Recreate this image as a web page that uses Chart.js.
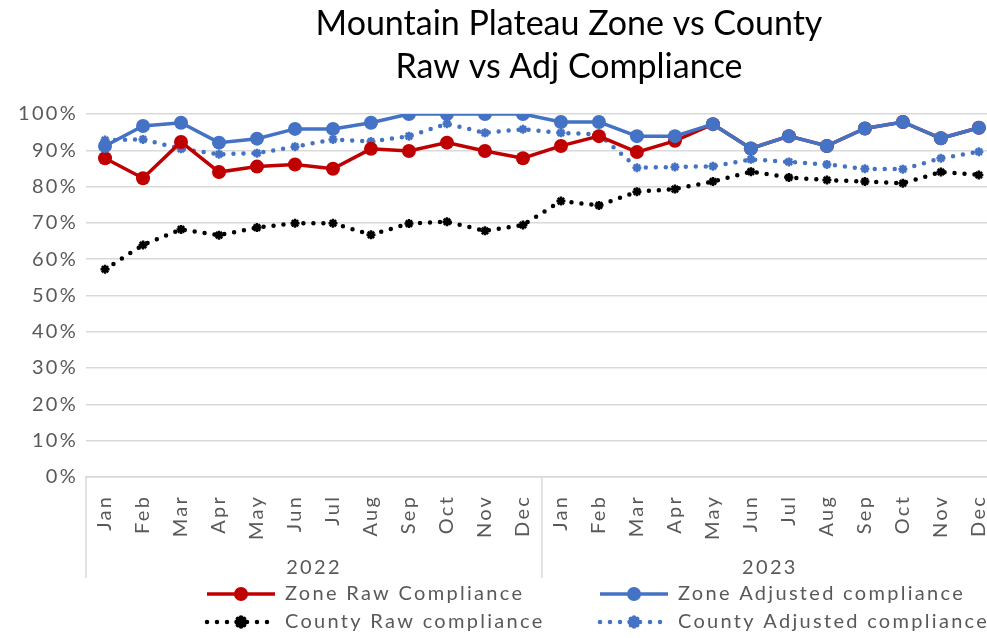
<!DOCTYPE html>
<html>
<head>
<meta charset="utf-8">
<script src="https://cdn.jsdelivr.net/npm/chart.js@4.4.0/dist/chart.umd.min.js"></script>
<style>
  html, body { margin: 0; padding: 0; background: #fff; overflow: hidden; }
  #canvas-wrapper { width: 1013px; height: 638px; }
</style>
</head>
<body>
<div id="canvas-wrapper"><canvas id="myChart"></canvas></div>
<script>
const titleLines = ['Mountain Plateau Zone vs County', 'Raw vs Adj Compliance'];
const years = ['2022', '2023'];
const months = ['Jan', 'Feb', 'Mar', 'Apr', 'May', 'Jun', 'Jul', 'Aug', 'Sep', 'Oct', 'Nov', 'Dec'];
const labels = years.flatMap(() => months);
const yTicks = [0, 10, 20, 30, 40, 50, 60, 70, 80, 90, 100];

const zoneRaw = [87.8, 82.3, 92.3, 84.0, 85.5, 86.1, 84.9, 90.4, 89.8, 92.1, 89.8, 87.8,
                 91.2, 93.9, 89.5, 92.6, 97.2, 90.5, 93.9, 91.2, 96.0, 97.8, 93.3, 96.2];
const zoneAdj = [91.2, 96.7, 97.6, 92.1, 93.2, 95.9, 95.9, 97.6, 100, 100, 100, 100,
                 97.8, 97.8, 93.9, 93.9, 97.2, 90.5, 93.9, 91.2, 96.0, 97.8, 93.3, 96.2];
const countyRaw = [57.2, 63.9, 68.2, 66.6, 68.7, 69.9, 69.9, 66.7, 69.8, 70.3, 67.8, 69.4,
                   76.0, 74.8, 78.6, 79.3, 81.4, 84.1, 82.5, 81.8, 81.4, 80.9, 84.0, 83.2];
const countyAdj = [92.8, 93.0, 90.4, 88.9, 89.2, 91.0, 93.0, 92.4, 93.9, 97.3, 94.8, 95.8,
                   94.8, 94.4, 85.2, 85.4, 85.6, 87.5, 86.8, 86.1, 84.9, 84.8, 87.8, 89.6];

const RED = '#C00000';
const BLUE = '#4472C4';
const GREY_TEXT = '#595959';
const GRID = '#D9D9D9';
const FONT = 'Lato';
const SPACING = '2.3px';

const solid = (label, data, color, order) => ({
  label, data, order,
  borderColor: color,
  backgroundColor: color,
  borderWidth: 3.5,
  pointRadius: 7,
  pointHoverRadius: 7,
  pointStyle: 'circle',
  pointBorderWidth: 0,
  tension: 0
});

const dotted = (label, data, color, order) => ({
  label, data, order,
  borderColor: color,
  backgroundColor: color,
  borderWidth: 4.5,
  borderDash: [0, 10],
  borderCapStyle: 'round',
  pointRadius: 4.5,
  pointHoverRadius: 4.5,
  pointStyle: 'star',
  pointBorderWidth: 2.5,
  tension: 0
});

// canvas letter spacing gets wiped whenever the canvas is resized
const spacing = {
  id: 'spacing',
  beforeUpdate(chart) { chart.ctx.letterSpacing = SPACING; },
  beforeLayout(chart) { chart.ctx.letterSpacing = SPACING; },
  beforeDraw(chart) { chart.ctx.letterSpacing = SPACING; }
};

const twoLineTitle = {
  id: 'twoLineTitle',
  afterDraw(chart) {
    const ctx = chart.ctx;
    ctx.save();
    ctx.letterSpacing = '0px';
    ctx.fillStyle = '#000';
    ctx.font = `34px ${FONT}`;
    ctx.textAlign = 'center';
    ctx.textBaseline = 'alphabetic';
    ctx.fillText(titleLines[0], 569, 35);
    ctx.fillText(titleLines[1], 569, 78);
    ctx.restore();
  }
};

// year groups under the month labels, with separator lines
const yearGroups = {
  id: 'yearGroups',
  afterDraw(chart) {
    const x = chart.scales.x;
    const ctx = chart.ctx;
    const step = x.getPixelForTick(1) - x.getPixelForTick(0);
    ctx.save();
    ctx.strokeStyle = GRID;
    ctx.lineWidth = 1.5;
    for (let g = 0; g <= years.length; g++) {
      const px = x.getPixelForTick(Math.min(g * 12, labels.length - 1)) + (g * 12 >= labels.length ? step / 2 : -step / 2);
      ctx.beginPath();
      ctx.moveTo(px, x.top);
      ctx.lineTo(px, x.bottom);
      ctx.stroke();
    }
    ctx.fillStyle = GREY_TEXT;
    ctx.font = `20px ${FONT}`;
    ctx.textAlign = 'center';
    ctx.textBaseline = 'alphabetic';
    years.forEach((y, g) => {
      const mid = (x.getPixelForTick(g * 12) + x.getPixelForTick(g * 12 + 11)) / 2;
      ctx.fillText(y, mid, x.bottom - 4);
    });
    ctx.restore();
  }
};

// two-column legend below the axis
const gridLegend = {
  id: 'gridLegend',
  afterDraw(chart) {
    const ctx = chart.ctx;
    const cols = [207, 600];
    const rows = [594, 622];
    const lineLen = 68;
    chart.data.datasets.forEach((ds, i) => {
      const cx = cols[i % 2];
      const cy = rows[Math.floor(i / 2)];
      ctx.save();
      ctx.strokeStyle = ds.borderColor;
      ctx.fillStyle = ds.backgroundColor;
      ctx.lineWidth = ds.borderWidth;
      ctx.lineCap = ds.borderCapStyle || 'butt';
      ctx.setLineDash(ds.borderDash || []);
      ctx.beginPath();
      ctx.moveTo(cx, cy);
      ctx.lineTo(cx + lineLen, cy);
      ctx.stroke();
      ctx.setLineDash([]);
      Chart.helpers.drawPoint(ctx, {
        pointStyle: ds.pointStyle,
        radius: ds.pointRadius,
        borderWidth: ds.pointBorderWidth,
        rotation: 0
      }, cx + lineLen / 2, cy);
      ctx.fillStyle = GREY_TEXT;
      ctx.font = `20px ${FONT}`;
      ctx.textAlign = 'left';
      ctx.textBaseline = 'middle';
      ctx.fillText(ds.label, cx + lineLen + 10, cy);
      ctx.restore();
    });
  }
};

const ctx = document.querySelector('#myChart');
new Chart(ctx, {
  type: 'line',
  data: {
    labels: labels,
    datasets: [
      solid('Zone Raw Compliance', zoneRaw, RED, 2),
      solid('Zone Adjusted compliance', zoneAdj, BLUE, 1),
      dotted('County Raw compliance', countyRaw, '#000000', 4),
      dotted('County Adjusted compliance', countyAdj, BLUE, 3)
    ]
  },
  options: {
    responsive: true,
    maintainAspectRatio: false,
    animation: false,
    layout: {
      padding: { top: 114, left: 10, right: 0, bottom: 60 }
    },
    scales: {
      x: {
        type: 'category',
        offset: true,
        grid: { display: false },
        border: { display: true, color: GRID, width: 1.5 },
        ticks: {
          color: GREY_TEXT,
          font: { family: FONT, size: 20 },
          minRotation: 90,
          maxRotation: 90,
          autoSkip: false,
          padding: 10
        },
        afterFit(scale) { scale.height += 28; }
      },
      y: {
        min: 0,
        max: 100,
        afterBuildTicks(scale) { scale.ticks = yTicks.map(v => ({ value: v })); },
        grid: { color: GRID, lineWidth: 1.5, drawTicks: false },
        border: { display: false },
        ticks: {
          color: GREY_TEXT,
          font: { family: FONT, size: 20 },
          padding: 8,
          callback: v => v + '%'
        }
      }
    },
    plugins: {
      legend: { display: false },
      title: { display: false },
      tooltip: { enabled: false }
    }
  },
  plugins: [spacing, twoLineTitle, yearGroups, gridLegend]
});
</script>
</body>
</html>
